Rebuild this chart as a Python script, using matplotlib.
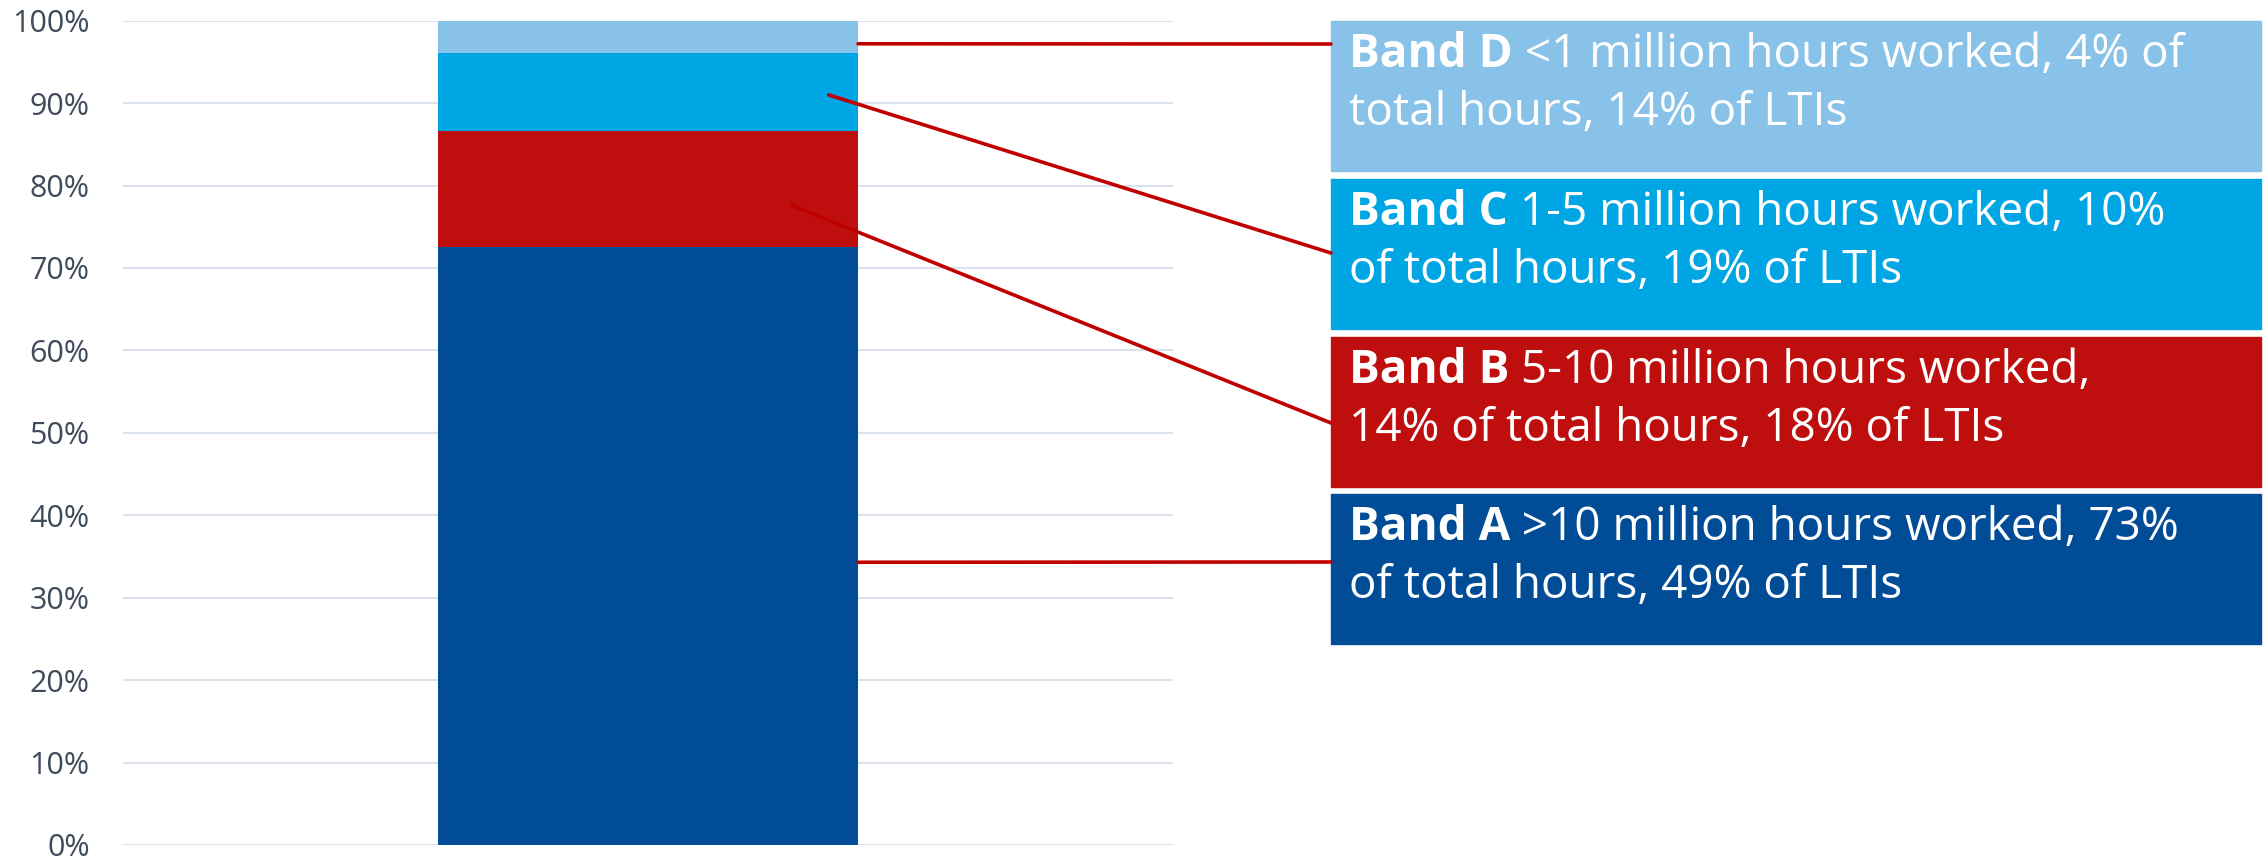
import numpy as np
import matplotlib
matplotlib.use("Agg")
import matplotlib.pyplot as plt
from matplotlib.patches import Rectangle

# Données : part des heures travaillées par bande (%)
bands = ["Band A", "Band B", "Band C", "Band D"]
shares = [72.5, 14.1, 9.5, 3.9]
colors = ["#004C97", "#BE0E0E", "#00A6E3", "#89C2E9"]
line1_rest = [" >10 million hours worked, 73%",
              " 5-10 million hours worked,",
              " 1-5 million hours worked, 10%",
              " <1 million hours worked, 4% of"]
line2 = ["of total hours, 49% of LTIs",
         "14% of total hours, 18% of LTIs",
         "of total hours, 19% of LTIs",
         "total hours, 14% of LTIs"]
# point de départ des traits de rappel (x, y en données)
leader_x = [0.2, 0.137, 0.172, 0.2]
leader_y = [34.3, 77.6, 91.0, 97.2]
yticks = np.arange(0, 101, 10)

W, H = 2265, 859
fig = plt.figure(figsize=(W / 100, H / 100), dpi=100)
ax = fig.add_axes([123 / W, 1 - 845 / H, 1050 / W, (845 - 20.7) / H])

bottom = 0
for s, c in zip(shares, colors):
    ax.bar(0, s, width=0.4, bottom=bottom, color=c, zorder=2)
    bottom += s

ax.set_xlim(-0.5, 0.5)
ax.set_ylim(0, 100)
ax.set_yticks(yticks)
ax.set_yticklabels([f"{v}%" for v in yticks], fontfamily="Open Sans",
                   fontsize=22, color="#3F4B5B")
ax.set_xticks([])
ax.tick_params(axis="y", length=0, pad=24)
ax.grid(axis="y", color="#D9E2EC", linewidth=1.5)
ax.set_axisbelow(True)
for sp in ax.spines.values():
    sp.set_visible(False)

# encadrés de légende à droite (pixels figure)
box_x0, box_x1 = 1331, 2261
box_tops = [494, 337, 179, 21]
box_h = 150
anchor_y = [562, 423, 253, 44]
fs = 33

for i in range(4):
    top = box_tops[i]
    fig.patches.append(Rectangle((box_x0 / W, 1 - (top + box_h) / H),
                                 (box_x1 - box_x0) / W, box_h / H,
                                 transform=fig.transFigure, color=colors[i],
                                 zorder=-1))
    bold = fig.text(1349 / W, 1 - (top + 46) / H, bands[i], fontfamily="Open Sans",
                    fontweight="bold", fontsize=fs, color="white", va="baseline")
    ax.annotate(line1_rest[i], xy=(1, 0), xycoords=bold, va="bottom", ha="left",
                fontfamily="Open Sans", fontsize=fs, color="white",
                annotation_clip=False)
    fig.text(1349 / W, 1 - (top + 104) / H, line2[i], fontfamily="Open Sans",
             fontsize=fs, color="white", va="baseline")
    ax.annotate("", xy=(leader_x[i], leader_y[i]), xycoords="data",
                xytext=(box_x0 / W, 1 - anchor_y[i] / H), textcoords="figure fraction",
                arrowprops=dict(arrowstyle="-", color="#C00000", lw=2.6,
                                shrinkA=0, shrinkB=0),
                annotation_clip=False)

fig.savefig("out.png", dpi=100)
